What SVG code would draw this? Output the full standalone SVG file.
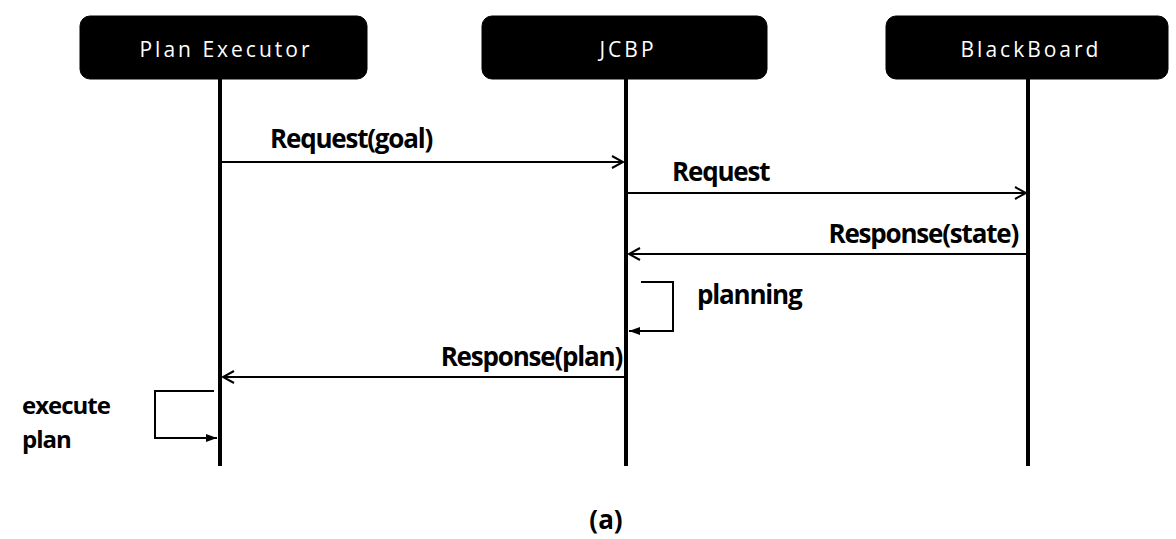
<svg xmlns="http://www.w3.org/2000/svg" width="1176" height="539" viewBox="0 0 1176 539">
<style>
.box{fill:#000;stroke:#000;stroke-width:1}
.head{font-family:"Open Sans","Liberation Sans",sans-serif;font-size:21px;fill:#fff;text-anchor:middle;letter-spacing:3px}
.life{stroke:#000;stroke-width:4;fill:none}
.msg{stroke:#000;stroke-width:2;fill:none}
.lbl{font-family:"Open Sans","Liberation Sans",sans-serif;font-size:26px;font-weight:bold;fill:#000;letter-spacing:-1.2px}
.side{font-size:24px;letter-spacing:-1px}
</style>
<defs>
<marker id="open" markerWidth="14" markerHeight="14" refX="12" refY="7" orient="auto" markerUnits="userSpaceOnUse">
<path d="M1,1 L12,7 L1,13" fill="none" stroke="#000" stroke-width="2"/>
</marker>
<marker id="fill" markerWidth="12" markerHeight="10" refX="11" refY="5" orient="auto" markerUnits="userSpaceOnUse">
<path d="M0,1 L11,5 L0,9 Z" fill="#000"/>
</marker>
</defs>
<g id="plan-executor">
<rect class="box" x="80" y="16" width="287" height="63" rx="10"/>
<text class="head" x="226" y="57">Plan Executor</text>
<line class="life" x1="220" y1="79" x2="220" y2="466"/>
</g>
<g id="jcbp">
<rect class="box" x="482" y="16" width="285" height="63" rx="10"/>
<text class="head" x="628" y="57">JCBP</text>
<line class="life" x1="626" y1="79" x2="626" y2="466"/>
</g>
<g id="blackboard">
<rect class="box" x="886" y="16" width="282" height="63" rx="10"/>
<text class="head" x="1031" y="57">BlackBoard</text>
<line class="life" x1="1028" y1="79" x2="1028" y2="466"/>
</g>
<g id="connectors">
<line class="msg" x1="222" y1="162" x2="623" y2="162" marker-end="url(#open)"/>
<line class="msg" x1="628" y1="193" x2="1026" y2="193" marker-end="url(#open)"/>
<line class="msg" x1="1026" y1="254" x2="629" y2="254" marker-end="url(#open)"/>
<polyline class="msg" points="641,282 673,282 673,331 629,331" marker-end="url(#fill)"/>
<line class="msg" x1="624" y1="377" x2="223" y2="377" marker-end="url(#open)"/>
<polyline class="msg" points="214,391 155,391 155,438 217,438" marker-end="url(#fill)"/>
</g>
<g id="labels">
<text class="lbl" x="270" y="148">Request(goal)</text>
<text class="lbl" x="672" y="181">Request</text>
<text class="lbl" x="1018" y="243" text-anchor="end">Response(state)</text>
<text class="lbl" x="697" y="304">planning</text>
<text class="lbl" x="622" y="366" text-anchor="end">Response(plan)</text>
<text class="lbl side" x="22" y="414">execute</text>
<text class="lbl side" x="22" y="448">plan</text>
<text class="lbl" x="606" y="529" text-anchor="middle" style="font-size:26px;letter-spacing:0">(a)</text>
</g>
</svg>
